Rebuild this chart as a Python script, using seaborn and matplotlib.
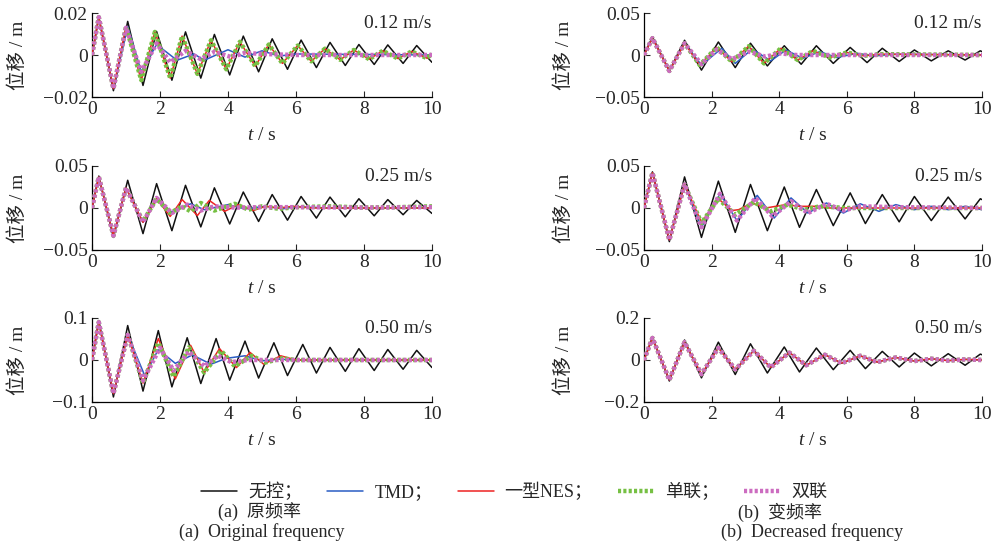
import numpy as np
import pandas as pd
import matplotlib
matplotlib.use("Agg")
import matplotlib.pyplot as plt
import seaborn as sns
from matplotlib.lines import Line2D
from matplotlib.ticker import FuncFormatter

# extrema: (t [s], displacement [m])
# (a) original frequency, 0.12 m/s
a1_none = [(0, 0), (0.2, 0.018), (0.63, -0.017), (1.05, 0.016), (1.5, -0.0145), (1.9, 0.0112), (2.35, -0.012),
           (2.75, 0.011), (3.2, -0.011), (3.6, 0.0098), (4.05, -0.0095), (4.45, 0.009), (4.9, -0.008), (5.3, 0.0077),
           (5.75, -0.0068), (6.15, 0.0071), (6.6, -0.006), (7.0, 0.006), (7.45, -0.005), (7.85, 0.005), (8.3, -0.0045),
           (8.7, 0.0048), (9.15, -0.004), (9.55, 0.0045), (10, -0.0035)]
a1_tmd = [(0, 0), (0.2, 0.018), (0.63, -0.016), (1.05, 0.0135), (1.45, -0.008), (1.9, 0.005), (2.5, -0.0025),
          (3.0, 0.0005), (3.3, -0.0025), (4.0, 0.0025), (4.5, -0.001), (5.0, 0.002), (5.5, -0.0005), (6.0, 0.0005), (10, 0)]
a1_nes = [(0, 0), (0.2, 0.018), (0.63, -0.016), (1.0, 0.0135), (1.45, -0.012), (1.85, 0.011), (2.3, -0.011),
          (2.65, 0.009), (3.1, -0.009), (3.5, 0.007), (3.95, -0.0068), (4.35, 0.0063), (4.8, -0.0053), (5.2, 0.005),
          (5.6, -0.004), (6.05, 0.0045), (6.45, -0.003), (6.85, 0.003), (7.3, -0.0023), (7.7, 0.0024), (8.15, -0.002),
          (8.55, 0.002), (9.0, -0.0017), (9.4, 0.0017), (9.85, -0.0015), (10, 0.0005)]
a1_single = [(0, 0), (0.2, 0.018), (0.63, -0.016), (1.0, 0.0135), (1.45, -0.012), (1.85, 0.011), (2.3, -0.011),
             (2.65, 0.009), (3.1, -0.009), (3.5, 0.007), (3.95, -0.0068), (4.35, 0.0063), (4.8, -0.0053), (5.2, 0.005),
             (5.6, -0.004), (6.05, 0.0045), (6.45, -0.003), (6.85, 0.003), (7.3, -0.0023), (7.7, 0.0024), (8.15, -0.002),
             (8.55, 0.002), (9.0, -0.0017), (9.4, 0.0017), (9.85, -0.0015), (10, 0.0005)]
a1_double = [(0, 0), (0.2, 0.018), (0.63, -0.016), (1.0, 0.013), (1.45, -0.008), (1.9, 0.0055), (2.3, -0.0035),
             (2.75, 0.002), (3.2, -0.002), (3.6, 0.0015), (4.1, -0.001), (4.5, 0.001), (5.0, 0.0005), (6.0, 0), (10, 0)]

# (a) original frequency, 0.25 m/s
a2_none = [(0, 0), (0.2, 0.038), (0.63, -0.035), (1.05, 0.033), (1.5, -0.0305), (1.9, 0.029), (2.35, -0.027),
           (2.75, 0.027), (3.2, -0.0225), (3.6, 0.024), (4.05, -0.019), (4.45, 0.019), (4.9, -0.016), (5.3, 0.016),
           (5.75, -0.0145), (6.15, 0.0137), (6.6, -0.012), (7.0, 0.013), (7.45, -0.0105), (7.85, 0.011), (8.3, -0.0093),
           (8.7, 0.010), (9.15, -0.008), (9.55, 0.009), (10, -0.0065)]
a2_tmd = [(0, 0), (0.2, 0.037), (0.63, -0.033), (1.0, 0.024), (1.5, -0.017), (1.9, 0.011), (2.35, -0.005), (2.9, 0.005),
          (3.3, -0.002), (4.0, 0.004), (4.5, -0.001), (5.1, 0.002), (5.6, -0.001), (6.0, 0.0015), (7, 0), (10, 0)]
a2_nes = [(0, 0), (0.2, 0.037), (0.63, -0.033), (1.0, 0.024), (1.5, -0.017), (1.9, 0.011), (2.3, -0.01), (2.65, 0.01),
          (3.1, -0.009), (3.45, 0.009), (3.9, -0.004), (4.3, 0.004), (4.75, -0.003), (5.1, 0.002), (5.5, 0), (5.9, 0.002),
          (6.5, 0), (10, 0)]
a2_single = [(0, 0), (0.2, 0.037), (0.63, -0.033), (1.0, 0.024), (1.5, -0.016), (1.9, 0.011), (2.3, -0.006),
             (2.65, 0.002), (2.9, -0.004), (3.2, 0.006), (3.6, -0.003), (4.2, 0.005), (4.6, -0.002), (5.0, 0.002),
             (5.5, -0.001), (6.0, 0.001), (7.0, 0.002), (8.0, 0.0005), (9.0, 0.001), (10, 0.002)]
a2_double = [(0, 0), (0.2, 0.037), (0.63, -0.033), (1.0, 0.024), (1.5, -0.017), (1.9, 0.012), (2.35, -0.006),
             (2.8, 0.004), (3.2, -0.003), (3.6, 0.002), (4.2, 0.0005), (5.0, 0.001), (6.0, 0.001), (8.0, 0.0005), (10, 0.001)]

# (a) original frequency, 0.50 m/s
a3_none = [(0, 0), (0.2, 0.094), (0.63, -0.088), (1.05, 0.082), (1.5, -0.074), (1.95, 0.07), (2.35, -0.064),
           (2.8, 0.053), (3.2, -0.056), (3.65, 0.051), (4.05, -0.048), (4.5, 0.045), (4.9, -0.043), (5.35, 0.041),
           (5.75, -0.037), (6.2, 0.037), (6.6, -0.031), (7.0, 0.030), (7.45, -0.027), (7.85, 0.027), (8.3, -0.025),
           (8.7, 0.025), (9.15, -0.022), (9.55, 0.023), (10, -0.018)]
a3_tmd = [(0, 0), (0.2, 0.09), (0.63, -0.08), (1.05, 0.06), (1.55, -0.037), (1.95, 0.025), (2.45, -0.008),
          (2.95, 0.012), (3.5, -0.01), (3.95, 0.004), (4.5, 0.01), (5.0, -0.002), (5.5, 0.002), (6.0, 0), (10, 0)]
a3_nes = [(0, 0), (0.2, 0.09), (0.63, -0.08), (1.05, 0.06), (1.5, -0.055), (1.95, 0.051), (2.45, -0.045),
          (2.9, 0.035), (3.3, -0.03), (3.75, 0.027), (4.25, -0.018), (4.65, 0.018), (5.05, -0.01), (5.55, 0.01), (6.0, 0), (10, 0)]
a3_single = [(0, 0), (0.2, 0.09), (0.63, -0.08), (1.05, 0.06), (1.5, -0.055), (1.95, 0.041), (2.4, -0.04),
             (2.85, 0.03), (3.3, -0.03), (3.8, 0.022), (4.2, -0.015), (4.7, 0.01), (5.1, -0.006), (5.6, 0.004), (6.0, 0), (10, 0)]
a3_double = [(0, 0), (0.2, 0.09), (0.63, -0.08), (1.05, 0.06), (1.5, -0.049), (2.0, 0.029), (2.4, -0.025),
             (2.85, 0.02), (3.3, -0.015), (3.7, 0.01), (4.1, -0.005), (4.6, 0), (10, 0)]

# (b) decreased frequency, 0.12 m/s
b1_none = [(0, 0), (0.25, 0.0215), (0.75, -0.019), (1.2, 0.0175), (1.7, -0.018), (2.2, 0.0155), (2.7, -0.015),
           (3.15, 0.014), (3.65, -0.013), (4.15, 0.011), (4.65, -0.011), (5.1, 0.011), (5.6, -0.010), (6.1, 0.009),
           (6.6, -0.009), (7.05, 0.008), (7.55, -0.0077), (8.0, 0.006), (8.5, -0.007), (9.0, 0.005), (9.5, -0.006),
           (9.95, 0.005), (10, 0.004)]
b1_tmd = [(0, 0), (0.25, 0.02), (0.75, -0.019), (1.2, 0.014), (1.7, -0.012), (2.3, 0.008), (2.7, -0.01),
          (3.2, 0.007), (3.75, -0.007), (4.2, 0.006), (4.7, -0.004), (5.2, 0.004), (5.7, -0.003), (6.3, 0.002),
          (6.8, -0.001), (7.5, 0.001), (10, 0)]
b1_nes = [(0, 0), (0.25, 0.02), (0.75, -0.019), (1.2, 0.014), (1.65, -0.012), (2.15, 0.009), (2.6, -0.008),
          (3.1, 0.0105), (3.55, -0.01), (4.05, 0.008), (4.55, -0.006), (5.0, 0.005), (5.5, -0.003), (6.0, 0.003),
          (6.5, -0.001), (7.0, 0.001), (10, 0)]
b1_single = [(0, 0), (0.25, 0.02), (0.75, -0.019), (1.2, 0.014), (1.65, -0.012), (2.15, 0.009), (2.6, -0.008),
             (3.1, 0.0105), (3.55, -0.01), (4.05, 0.008), (4.55, -0.006), (5.0, 0.005), (5.5, -0.003), (6.0, 0.003),
             (6.5, -0.001), (7.0, 0.001), (10, 0)]
b1_double = [(0, 0), (0.25, 0.02), (0.75, -0.019), (1.2, 0.014), (1.7, -0.011), (2.15, 0.0065), (2.6, -0.005),
             (3.1, 0.004), (3.6, -0.002), (4.0, 0.002), (4.5, 0), (10, 0)]

# (b) decreased frequency, 0.25 m/s
b2_none = [(0, 0), (0.25, 0.043), (0.75, -0.040), (1.2, 0.037), (1.7, -0.035), (2.2, 0.032), (2.7, -0.029),
           (3.15, 0.028), (3.65, -0.027), (4.15, 0.025), (4.6, -0.023), (5.1, 0.022), (5.6, -0.021), (6.1, 0.018),
           (6.55, -0.0185), (7.05, 0.016), (7.55, -0.0165), (8.0, 0.0137), (8.5, -0.015), (9.0, 0.013), (9.5, -0.013),
           (9.95, 0.011), (10, 0.01)]
b2_tmd = [(0, 0), (0.25, 0.042), (0.75, -0.038), (1.2, 0.028), (1.7, -0.023), (2.25, 0.017), (2.75, -0.015),
          (3.35, 0.015), (3.85, -0.012), (4.35, 0.012), (4.85, -0.006), (5.4, 0.006), (5.9, -0.006), (6.4, 0.005),
          (6.95, -0.004), (7.45, 0.004), (8.0, -0.002), (8.5, 0.002), (9.0, -0.002), (9.5, 0.002), (10, -0.002)]
b2_nes = [(0, 0), (0.25, 0.042), (0.75, -0.038), (1.2, 0.028), (1.7, -0.017), (2.2, 0.011), (2.6, -0.003),
          (2.8, -0.002), (3.2, 0.006), (3.6, 0.0), (4.2, 0.004), (4.6, 0.002), (5.1, 0.002), (5.5, 0.0), (10, 0)]
b2_single = [(0, 0), (0.25, 0.042), (0.75, -0.038), (1.2, 0.028), (1.7, -0.018), (2.2, 0.011), (2.7, -0.008),
             (3.25, 0.007), (3.75, -0.004), (4.25, 0.004), (4.75, -0.002), (5.2, 0.002), (6.0, 0), (10, 0)]
b2_double = [(0, 0), (0.25, 0.042), (0.75, -0.038), (1.2, 0.028), (1.7, -0.023), (2.25, 0.017), (2.75, -0.015),
             (3.3, 0.012), (3.8, -0.01), (4.35, 0.008), (4.85, -0.006), (5.4, 0.005), (5.9, -0.003), (6.4, 0.002),
             (7.5, 0.001), (10, 0)]

# (b) decreased frequency, 0.50 m/s
b3_none = [(0, 0), (0.25, 0.108), (0.75, -0.1), (1.2, 0.095), (1.7, -0.085), (2.2, 0.085), (2.7, -0.069),
           (3.15, 0.077), (3.65, -0.062), (4.15, 0.062), (4.6, -0.057), (5.1, 0.057), (5.6, -0.046), (6.1, 0.046),
           (6.55, -0.041), (7.05, 0.041), (7.55, -0.033), (8.0, 0.033), (8.5, -0.028), (9.0, 0.03), (9.5, -0.025),
           (9.95, 0.028), (10, 0.025)]
b3_tmd = [(0, 0), (0.25, 0.105), (0.75, -0.095), (1.2, 0.085), (1.7, -0.07), (2.2, 0.06), (2.7, -0.046),
          (3.25, 0.046), (3.75, -0.036), (4.3, 0.036), (4.8, -0.026), (5.35, 0.026), (5.85, -0.016), (6.4, 0.02),
          (6.9, -0.01), (7.45, 0.012), (8.0, -0.005), (8.5, 0.006), (9.0, -0.003), (9.5, 0.003), (10, 0)]
b3_nes = [(0, 0), (0.25, 0.105), (0.75, -0.095), (1.2, 0.085), (1.7, -0.068), (2.2, 0.058), (2.7, -0.045),
          (3.25, 0.044), (3.75, -0.035), (4.3, 0.035), (4.8, -0.025), (5.35, 0.025), (5.85, -0.015), (6.4, 0.02),
          (6.9, -0.01), (7.45, 0.012), (8.0, -0.005), (8.5, 0.006), (9.0, -0.003), (9.5, 0.003), (10, 0)]
b3_single = [(0, 0), (0.25, 0.105), (0.75, -0.095), (1.2, 0.085), (1.7, -0.068), (2.2, 0.058), (2.7, -0.045),
             (3.25, 0.044), (3.75, -0.035), (4.3, 0.035), (4.8, -0.025), (5.35, 0.025), (5.85, -0.015), (6.4, 0.02),
             (6.9, -0.01), (7.45, 0.012), (8.0, -0.005), (8.5, 0.006), (9.0, -0.003), (9.5, 0.003), (10, 0)]
b3_double = [(0, 0), (0.25, 0.105), (0.75, -0.095), (1.2, 0.085), (1.7, -0.068), (2.2, 0.058), (2.7, -0.045),
             (3.25, 0.044), (3.75, -0.035), (4.3, 0.035), (4.8, -0.025), (5.35, 0.025), (5.85, -0.015), (6.4, 0.02),
             (6.9, -0.01), (7.45, 0.012), (8.0, -0.005), (8.5, 0.006), (9.0, -0.003), (9.5, 0.003), (10, 0)]

series_names = ["无控；", "TMD；", "一型NES；", "单联；", "双联"]
speed_labels = ["0.12 m/s", "0.25 m/s", "0.50 m/s"]
ylims_a = [0.02, 0.05, 0.1]
ylims_b = [0.05, 0.05, 0.2]
panels_a = [[a1_none, a1_tmd, a1_nes, a1_single, a1_double],
            [a2_none, a2_tmd, a2_nes, a2_single, a2_double],
            [a3_none, a3_tmd, a3_nes, a3_single, a3_double]]
panels_b = [[b1_none, b1_tmd, b1_nes, b1_single, b1_double],
            [b2_none, b2_tmd, b2_nes, b2_single, b2_double],
            [b3_none, b3_tmd, b3_nes, b3_single, b3_double]]

sns.set_style("white")
plt.rcParams['font.family'] = ['Liberation Serif', 'Noto Sans CJK SC']
plt.rcParams['mathtext.fontset'] = 'custom'
plt.rcParams['mathtext.it'] = 'Liberation Serif:italic'
plt.rcParams['mathtext.rm'] = 'Liberation Serif'

colors = ["#111111", "#2a5cc4", "#ee2222", "#76c043", "#cc6cc0"]
widths = [1.1, 1.1, 1.1, 3.2, 3.2]
styles = ["-", "-", "-", (0, (0.7, 0.5)), (0, (0.7, 0.5))]

fig = plt.figure(figsize=(9.99, 5.45), dpi=100)
rows_y = [1 - 97 / 545, 1 - 250 / 545, 1 - 402 / 545]
col_x = [92 / 999, 644 / 999]
col_w = [340 / 999, 338 / 999]
h = 84 / 545

fmt = FuncFormatter(lambda v, _: "0" if abs(v) < 1e-12 else f"{v:g}".replace("-", "\u2212"))

for c, (panels, lims) in enumerate([(panels_a, ylims_a), (panels_b, ylims_b)]):
    for r in range(3):
        ax = fig.add_axes([col_x[c], rows_y[r], col_w[c], h])
        for k, pts in enumerate(panels[r]):
            df = pd.DataFrame(pts, columns=["t", "y"])
            sns.lineplot(data=df, x="t", y="y", ax=ax, color=colors[k], lw=widths[k],
                         linestyle=styles[k], estimator=None, sort=False, zorder=2 + k)
        lim = lims[r]
        ax.set_xlim(0, 10)
        ax.set_ylim(-lim, lim)
        ax.set_xticks([0, 2, 4, 6, 8, 10])
        ax.set_yticks([-lim, 0, lim])
        ax.yaxis.set_major_formatter(fmt)
        ax.tick_params(direction="in", length=4, width=0.8, labelsize=14, pad=3, left=True, bottom=True)
        for s in ["top", "right"]:
            ax.spines[s].set_visible(False)
        for s in ["left", "bottom"]:
            ax.spines[s].set_color("black")
            ax.spines[s].set_linewidth(0.9)
        ax.set_xlabel("$t$ / s", fontsize=14)
        ax.xaxis.set_label_coords(0.5, -0.36)
        ax.set_ylabel("位移 / m", fontsize=14)
        ax.yaxis.set_label_coords(-0.19 if c == 0 else -0.21, 0.5)
        ax.text(1.0, 0.88, speed_labels[r], transform=ax.transAxes, ha="right", va="center", fontsize=14)

handles = [Line2D([], [], color=colors[k], lw=1.1 if k < 3 else 3.2, linestyle=styles[k]) for k in range(5)]
fig.legend(handles, series_names, loc="center", bbox_to_anchor=(514 / 999, 1 - 492 / 545), ncol=5,
           frameon=False, fontsize=13, handlelength=2.0, columnspacing=1.4, handletextpad=0.6)

fig.text(260 / 999, 1 - 512 / 545, "(a)  原频率", ha="center", va="center", fontsize=13)
fig.text(262 / 999, 1 - 532 / 545, "(a)  Original frequency", ha="center", va="center", fontsize=13)
fig.text(780 / 999, 1 - 512 / 545, "(b)  变频率", ha="center", va="center", fontsize=13)
fig.text(812 / 999, 1 - 532 / 545, "(b)  Decreased frequency", ha="center", va="center", fontsize=13)

fig.savefig("out.png", dpi=100)
